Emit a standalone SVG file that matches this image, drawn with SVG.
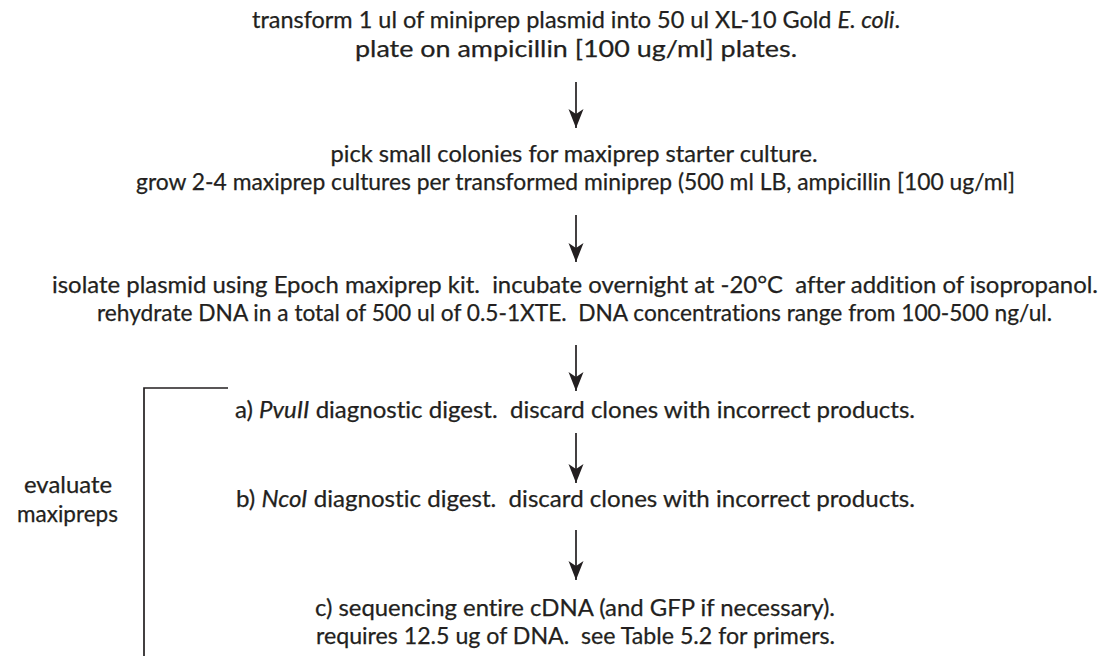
<svg xmlns="http://www.w3.org/2000/svg" width="1109" height="656" viewBox="0 0 1109 656">
  <style>
    .t { font-family: Lato, "Open Sans", "Liberation Sans", sans-serif; font-size: 23px; fill: #231f20; text-anchor: middle; white-space: pre; stroke: #231f20; stroke-width: 0.25; font-variant-ligatures: none; font-feature-settings: "liga" 0, "dlig" 0; }
    .i { font-style: italic; }
    .c { stroke: #231f20; stroke-width: 1.7; fill: none; }
  </style>
  <defs>
    <!-- concave arrowhead drawn along +x so orient="auto" points it down the line -->
    <marker id="head" markerUnits="userSpaceOnUse" markerWidth="22" markerHeight="18" refX="20" refY="9" orient="auto" viewBox="0 0 22 18">
      <path d="M20 9 L1 1.5 L6 9 L1 16.5 Z" fill="#231f20"/>
    </marker>
  </defs>
  <rect width="1109" height="656" fill="#ffffff"/>

  <g id="step-transform">
    <text class="t" x="576" y="28" textLength="648" lengthAdjust="spacingAndGlyphs">transform 1 ul of miniprep plasmid into 50 ul XL-10 Gold <tspan class="i">E. coli</tspan>.</text>
    <text class="t" x="576" y="57" textLength="442" lengthAdjust="spacingAndGlyphs">plate on ampicillin [100 ug/ml] plates.</text>
  </g>

  <g id="step-grow">
    <text class="t" x="574" y="162" textLength="487" lengthAdjust="spacingAndGlyphs">pick small colonies for maxiprep starter culture.</text>
    <text class="t" x="575.5" y="190" textLength="879" lengthAdjust="spacingAndGlyphs">grow 2-4 maxiprep cultures per transformed miniprep (500 ml LB, ampicillin [100 ug/ml]</text>
  </g>

  <g id="step-isolate">
    <text class="t" x="575" y="293" textLength="1046" lengthAdjust="spacingAndGlyphs">isolate plasmid using Epoch maxiprep kit.  incubate overnight at -20°C  after addition of isopropanol.</text>
    <text class="t" x="574.5" y="321" textLength="955" lengthAdjust="spacingAndGlyphs">rehydrate DNA in a total of 500 ul of 0.5-1XTE.  DNA concentrations range from 100-500 ng/ul.</text>
  </g>

  <g id="step-pvuii">
    <text class="t" x="575" y="418" textLength="680" lengthAdjust="spacingAndGlyphs">a) <tspan class="i">PvuII</tspan> diagnostic digest.  discard clones with incorrect products.</text>
  </g>

  <g id="step-ncoi">
    <text class="t" x="575.5" y="507" textLength="679" lengthAdjust="spacingAndGlyphs">b) <tspan class="i">NcoI</tspan> diagnostic digest.  discard clones with incorrect products.</text>
  </g>

  <g id="step-sequencing">
    <text class="t" x="575" y="616" textLength="520" lengthAdjust="spacingAndGlyphs">c) sequencing entire cDNA (and GFP if necessary).</text>
    <text class="t" x="575.5" y="644" textLength="519" lengthAdjust="spacingAndGlyphs">requires 12.5 ug of DNA.  see Table 5.2 for primers.</text>
  </g>

  <g id="label-evaluate">
    <text class="t" x="68" y="493" textLength="88" lengthAdjust="spacingAndGlyphs">evaluate</text>
    <text class="t" x="67.5" y="522" textLength="101" lengthAdjust="spacingAndGlyphs">maxipreps</text>
  </g>

  <g id="connectors">
    <line class="c" x1="576" y1="82" x2="576" y2="128" marker-end="url(#head)"/>
    <line class="c" x1="576" y1="215" x2="576" y2="262" marker-end="url(#head)"/>
    <line class="c" x1="576" y1="345" x2="576" y2="391" marker-end="url(#head)"/>
    <line class="c" x1="576" y1="433" x2="576" y2="483" marker-end="url(#head)"/>
    <line class="c" x1="576" y1="530" x2="576" y2="580" marker-end="url(#head)"/>
    <polyline class="c" points="228,388 144,388 144,656"/>
  </g>
</svg>
